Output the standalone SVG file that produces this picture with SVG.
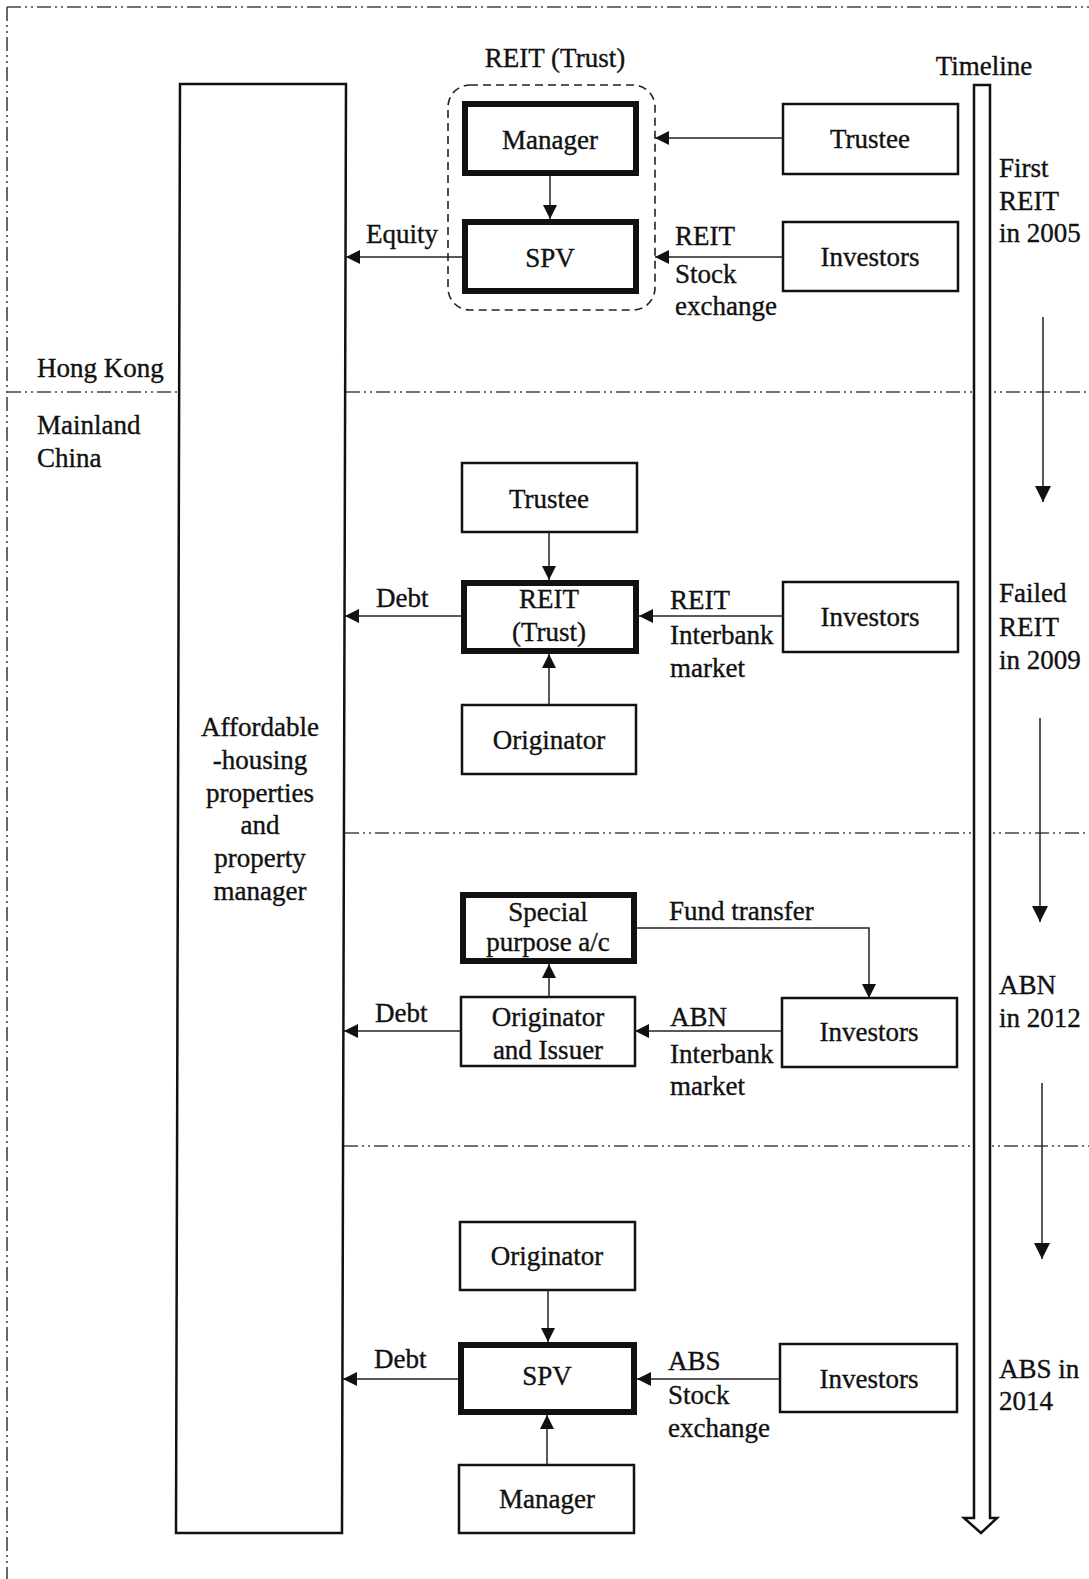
<svg xmlns="http://www.w3.org/2000/svg" width="1089" height="1579" viewBox="0 0 1089 1579">
<style>
text{font-family:"Liberation Serif","Times New Roman",serif;font-size:27px;fill:#111;stroke:#111;stroke-width:0.35}
.c{text-anchor:middle}
.box{fill:#fff;stroke:#111;stroke-width:2.5}
.thick{fill:#fff;stroke:#111;stroke-width:6}
.con{fill:none;stroke:#222;stroke-width:1.5}
.dd{fill:none;stroke:#444;stroke-width:1.6;stroke-dasharray:14 4 2 4 2 4}
</style>
<defs>
<marker id="ah" viewBox="0 0 14 14" refX="14" refY="7" markerWidth="14" markerHeight="14" markerUnits="userSpaceOnUse" orient="auto"><path d="M0,0 L14,7 L0,14 z" fill="#111"/></marker>
<marker id="ahb" viewBox="0 0 16 16" refX="16" refY="8" markerWidth="16" markerHeight="16" markerUnits="userSpaceOnUse" orient="auto"><path d="M0,0 L16,8 L0,16 z" fill="#111"/></marker>
</defs>
<rect width="1089" height="1579" fill="#fff"/>
<g id="borders">
<path class="dd" d="M7,7 H1089 M7,7 V1579" stroke-width="2"/>
<path class="dd" d="M7,392 H180 M346,392 H1089"/>
<path class="dd" d="M345,833 H1089"/>
<path class="dd" d="M344,1146 H1089"/>
</g>
<g id="region-labels">
<text x="37" y="377">Hong Kong</text>
<text x="37" y="434">Mainland</text>
<text x="37" y="467">China</text>
</g>
<g id="properties">
<path class="box" d="M180,84 L346,84 L342,1533 L176,1533 Z"/>
<text class="c" x="260" y="736">Affordable</text>
<text class="c" x="260" y="769">-housing</text>
<text class="c" x="260" y="802">properties</text>
<text class="c" x="260" y="834">and</text>
<text class="c" x="260" y="867">property</text>
<text class="c" x="260" y="900">manager</text>
</g>
<g id="timeline">
<path d="M974,85 L990,85 L990,1518 L997,1518 L981,1533 L964,1518 L974,1518 Z" fill="#fff" stroke="#111" stroke-width="2.5"/>
<text class="c" x="984" y="75">Timeline</text>
<text x="999" y="177">First</text>
<text x="999" y="210">REIT</text>
<text x="999" y="242">in 2005</text>
<text x="999" y="602">Failed</text>
<text x="999" y="636">REIT</text>
<text x="999" y="669">in 2009</text>
<text x="999" y="994">ABN</text>
<text x="999" y="1027">in 2012</text>
<text x="999" y="1378">ABS in</text>
<text x="999" y="1410">2014</text>
</g>
<g id="reit-trust-group">
<rect x="448" y="85" width="207" height="225" rx="22" fill="none" stroke="#222" stroke-width="1.6" stroke-dasharray="8 5"/>
<text class="c" x="555" y="67">REIT (Trust)</text>
</g>
<g id="hk-manager"><rect class="thick" x="465" y="104" width="171" height="69"/><text class="c" x="550" y="149">Manager</text></g>
<g id="hk-spv"><rect class="thick" x="465" y="222" width="171" height="69"/><text class="c" x="550" y="267">SPV</text></g>
<g id="hk-trustee"><rect class="box" x="783" y="104" width="175" height="70"/><text class="c" x="870" y="148">Trustee</text></g>
<g id="hk-investors"><rect class="box" x="783" y="222" width="175" height="69"/><text class="c" x="870" y="266">Investors</text></g>

<g id="cn-trustee"><rect class="box" x="462" y="463" width="175" height="69"/><text class="c" x="549" y="508">Trustee</text></g>
<g id="cn-reit"><rect class="thick" x="464" y="583" width="172" height="68"/><text class="c" x="549" y="608">REIT</text><text class="c" x="549" y="641">(Trust)</text></g>
<g id="cn-originator"><rect class="box" x="462" y="705" width="174" height="69"/><text class="c" x="549" y="749">Originator</text></g>
<g id="cn-investors"><rect class="box" x="783" y="582" width="175" height="70"/><text class="c" x="870" y="626">Investors</text></g>

<g id="abn-spa"><rect class="thick" x="463" y="895" width="171" height="66"/><text class="c" x="548" y="921">Special</text><text class="c" x="548" y="951">purpose a/c</text></g>
<g id="abn-originator"><rect class="box" x="461" y="997" width="174" height="69"/><text class="c" x="548" y="1026">Originator</text><text class="c" x="548" y="1059">and Issuer</text></g>
<g id="abn-investors"><rect class="box" x="782" y="998" width="175" height="69"/><text class="c" x="869" y="1041">Investors</text></g>

<g id="abs-originator"><rect class="box" x="460" y="1222" width="175" height="68"/><text class="c" x="547" y="1265">Originator</text></g>
<g id="abs-spv"><rect class="thick" x="461" y="1345" width="173" height="67"/><text class="c" x="547" y="1385">SPV</text></g>
<g id="abs-manager"><rect class="box" x="459" y="1465" width="175" height="68"/><text class="c" x="547" y="1508">Manager</text></g>
<g id="abs-investors"><rect class="box" x="780" y="1344" width="177" height="68"/><text class="c" x="869" y="1388">Investors</text></g>

<g id="connectors">
<line class="con" x1="550" y1="176" x2="550" y2="219" marker-end="url(#ah)"/>
<line class="con" x1="783" y1="138" x2="655" y2="138" marker-end="url(#ah)"/>
<line class="con" x1="783" y1="257" x2="655" y2="257" marker-end="url(#ah)"/>
<line class="con" x1="462" y1="257" x2="346" y2="257" marker-end="url(#ah)"/>
<line class="con" x1="549" y1="532" x2="549" y2="580" marker-end="url(#ah)"/>
<line class="con" x1="549" y1="705" x2="549" y2="654" marker-end="url(#ah)"/>
<line class="con" x1="783" y1="616" x2="639" y2="616" marker-end="url(#ah)"/>
<line class="con" x1="461" y1="616" x2="345" y2="616" marker-end="url(#ah)"/>
<line class="con" x1="549" y1="997" x2="549" y2="964" marker-end="url(#ah)"/>
<polyline class="con" points="637,928 869,928 869,998" marker-end="url(#ah)"/>
<line class="con" x1="782" y1="1031" x2="635" y2="1031" marker-end="url(#ah)"/>
<line class="con" x1="461" y1="1031" x2="344" y2="1031" marker-end="url(#ah)"/>
<line class="con" x1="548" y1="1290" x2="548" y2="1342" marker-end="url(#ah)"/>
<line class="con" x1="547" y1="1465" x2="547" y2="1415" marker-end="url(#ah)"/>
<line class="con" x1="780" y1="1379" x2="637" y2="1379" marker-end="url(#ah)"/>
<line class="con" x1="458" y1="1379" x2="343" y2="1379" marker-end="url(#ah)"/>
<line class="con" x1="1043" y1="317" x2="1043" y2="502" marker-end="url(#ahb)"/>
<line class="con" x1="1040" y1="718" x2="1040" y2="922" marker-end="url(#ahb)"/>
<line class="con" x1="1042" y1="1083" x2="1042" y2="1259" marker-end="url(#ahb)"/>
</g>
<g id="connector-labels">
<text x="366" y="243">Equity</text>
<text x="675" y="245">REIT</text>
<text x="675" y="283">Stock</text>
<text x="675" y="315">exchange</text>
<text x="376" y="607">Debt</text>
<text x="670" y="609">REIT</text>
<text x="670" y="644">Interbank</text>
<text x="670" y="677">market</text>
<text x="669" y="920">Fund transfer</text>
<text x="375" y="1022">Debt</text>
<text x="670" y="1026">ABN</text>
<text x="670" y="1063">Interbank</text>
<text x="670" y="1095">market</text>
<text x="374" y="1368">Debt</text>
<text x="668" y="1370">ABS</text>
<text x="668" y="1404">Stock</text>
<text x="668" y="1437">exchange</text>
</g>
</svg>
